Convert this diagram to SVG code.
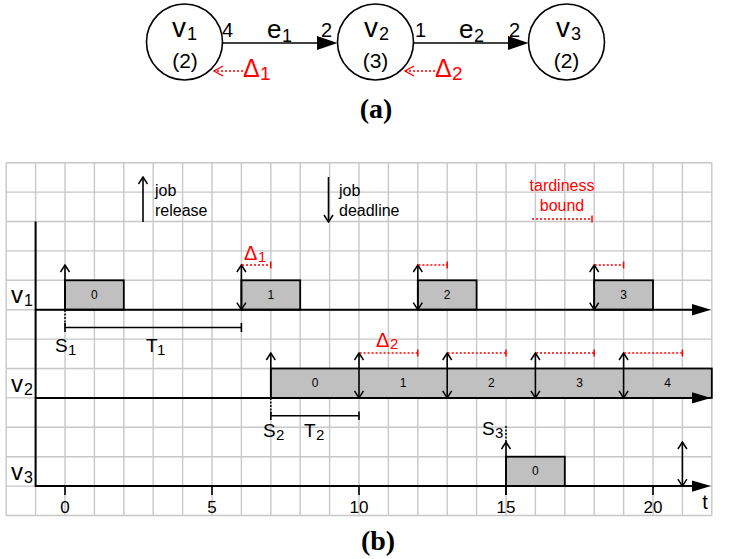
<svg xmlns="http://www.w3.org/2000/svg" width="736" height="559" viewBox="0 0 736 559">
<style>
text{font-family:"Liberation Sans",Arial,sans-serif;fill:#000}
.grid{fill:none;stroke:#c8c8c8;stroke-width:1.4}
.ln{fill:none;stroke:#000;stroke-width:1.6}
.ax{fill:none;stroke:#000;stroke-width:2}
.box{fill:#c0c0c0;stroke:#000;stroke-width:1.8}
.arr{fill:none;stroke:#000;stroke-width:1.6;marker-end:url(#oa)}
.darr{fill:none;stroke:#000;stroke-width:1.6;marker-start:url(#oa);marker-end:url(#oa)}
.red{fill:none;stroke:#f00;stroke-width:1.5;stroke-dasharray:2,2}
.rtk{fill:none;stroke:#f00;stroke-width:1.5}
.dash{fill:none;stroke:#000;stroke-width:1.5;stroke-dasharray:2,1.5}
.node{fill:#fff;stroke:#000;stroke-width:1.6}
.rt{fill:#f00}
.jl{font-size:12px;text-anchor:middle}
.tk{font-size:17px;text-anchor:middle}
.lg{font-size:16px}
.cap{font-family:"Liberation Serif","Times New Roman",serif;font-weight:bold;font-size:28px;text-anchor:middle}
</style>
<defs>
<marker id="oa" viewBox="-9 -6 10 12" refX="0" refY="0" markerWidth="10" markerHeight="12" markerUnits="userSpaceOnUse" orient="auto-start-reverse">
<path d="M-7,-4.5 L0,0 L-7,4.5" fill="none" stroke="#000" stroke-width="1.5"/>
</marker>
<marker id="ra" viewBox="-11 -7 12 14" refX="0" refY="0" markerWidth="12" markerHeight="14" markerUnits="userSpaceOnUse" orient="auto">
<path d="M-9,-5 L0,0 L-9,5" fill="none" stroke="#f00" stroke-width="1.3"/>
</marker>
</defs>
<rect width="736" height="559" fill="#fff"/>

<!-- (a) graph -->
<g id="graph-a">
<g id="node-v1">
<circle class="node" cx="184.5" cy="42" r="38"/>
<text x="172" y="37" font-size="28">v<tspan x="187" dy="3" font-size="18">1</tspan></text>
<text x="185" y="68" font-size="21" text-anchor="middle">(2)</text>
</g>
<g id="node-v2">
<circle class="node" cx="375.5" cy="42" r="38"/>
<text x="364" y="37" font-size="28">v<tspan x="379" dy="3" font-size="18">2</tspan></text>
<text x="375.5" y="68" font-size="21" text-anchor="middle">(3)</text>
</g>
<g id="node-v3">
<circle class="node" cx="566.5" cy="42" r="38"/>
<text x="556" y="37" font-size="28">v<tspan x="571" dy="3" font-size="18">3</tspan></text>
<text x="566.5" y="68" font-size="21" text-anchor="middle">(2)</text>
</g>
<g id="connectors-a">
<line class="ln" x1="222.5" y1="43" x2="318" y2="43"/>
<polygon points="317,36 337.5,43 317,50" fill="#000"/>
<line class="ln" x1="413.5" y1="43" x2="509" y2="43"/>
<polygon points="508,36 528.5,43 508,50" fill="#000"/>
<line class="red" x1="243" y1="71" x2="214" y2="71" marker-end="url(#ra)"/>
<line class="red" x1="435" y1="71" x2="405" y2="71" marker-end="url(#ra)"/>
</g>
<g id="edge-labels">
<text x="222" y="37" font-size="20">4</text>
<text x="267" y="38" font-size="26">e<tspan x="282" dy="4" font-size="18">1</tspan></text>
<text x="321" y="37" font-size="20">2</text>
<text x="415" y="37" font-size="20">1</text>
<text x="459" y="38" font-size="26">e<tspan x="474" dy="4" font-size="18">2</tspan></text>
<text x="509" y="37" font-size="20">2</text>
<text x="243" y="77" font-size="25" class="rt">Δ<tspan x="260" dy="3" font-size="19" class="rt">1</tspan></text>
<text x="435" y="77" font-size="25" class="rt">Δ<tspan x="452" dy="3" font-size="19" class="rt">2</tspan></text>
</g>
<text class="cap" x="376" y="118">(a)</text>
</g>

<!-- (b) timeline -->
<g id="timeline-b">
<path class="grid" d="M6.2,162.7V515.5M35.6,162.7V515.5M65,162.7V515.5M94.4,162.7V515.5M123.8,162.7V515.5M153.2,162.7V515.5M182.6,162.7V515.5M212,162.7V515.5M241.4,162.7V515.5M270.8,162.7V515.5M300.2,162.7V515.5M329.6,162.7V515.5M359,162.7V515.5M388.4,162.7V515.5M417.8,162.7V515.5M447.2,162.7V515.5M476.6,162.7V515.5M506,162.7V515.5M535.4,162.7V515.5M564.8,162.7V515.5M594.2,162.7V515.5M623.6,162.7V515.5M653,162.7V515.5M682.4,162.7V515.5M711.8,162.7V515.5M6.2,162.7H711.8M6.2,192.1H711.8M6.2,221.5H711.8M6.2,250.9H711.8M6.2,280.3H711.8M6.2,309.7H711.8M6.2,339.1H711.8M6.2,368.5H711.8M6.2,397.9H711.8M6.2,427.3H711.8M6.2,456.7H711.8M6.2,486.1H711.8M6.2,515.5H711.8"/>

<g id="legend">
<line class="arr" x1="143" y1="222" x2="143" y2="177"/>
<text class="lg" x="155" y="196">job</text>
<text class="lg" x="155" y="216">release</text>
<line class="arr" x1="328.5" y1="177" x2="328.5" y2="222"/>
<text class="lg" x="339" y="196">job</text>
<text class="lg" x="339" y="216">deadline</text>
<text class="lg rt" x="562" y="191" text-anchor="middle">tardiness</text>
<text class="lg rt" x="562" y="211" text-anchor="middle">bound</text>
<line class="red" x1="532" y1="219" x2="592" y2="219"/>
<line class="rtk" x1="592" y1="215.5" x2="592" y2="222.5"/>
</g>

<g id="v1-jobs">
<rect class="box" x="65" y="280.3" width="58.8" height="29.4"/>
<text class="jl" x="94.4" y="299">0</text>
<rect class="box" x="241.4" y="280.3" width="58.8" height="29.4"/>
<text class="jl" x="270.8" y="299">1</text>
<rect class="box" x="417.8" y="280.3" width="58.8" height="29.4"/>
<text class="jl" x="447.2" y="299">2</text>
<rect class="box" x="594.2" y="280.3" width="58.8" height="29.4"/>
<text class="jl" x="623.6" y="299">3</text>
</g>
<g id="v2-jobs">
<rect class="box" x="270.8" y="368.5" width="441" height="29.4"/>
<text class="jl" x="315.1" y="387">0</text>
<text class="jl" x="403.1" y="387">1</text>
<text class="jl" x="491.3" y="387">2</text>
<text class="jl" x="579.5" y="387">3</text>
<text class="jl" x="667.7" y="387">4</text>
</g>
<g id="v3-jobs">
<rect class="box" x="506" y="456.7" width="58.8" height="29.4"/>
<text class="jl" x="535.4" y="475">0</text>
</g>

<g id="axes">
<line class="ax" x1="35.6" y1="221.5" x2="35.6" y2="487"/>
<line class="ax" x1="35.6" y1="309.7" x2="695" y2="309.7"/>
<polygon points="692,304 711,309.7 692,315.4" fill="#000"/>
<line class="ax" x1="35.6" y1="397.9" x2="695" y2="397.9"/>
<polygon points="692,392.2 711,397.9 692,403.6" fill="#000"/>
<line class="ax" x1="35.6" y1="486.1" x2="695" y2="486.1"/>
<polygon points="692,480.4 711,486.1 692,491.8" fill="#000"/>
<path class="ln" d="M65,486V495M212,486V495M359,486V495M506,486V495M653,486V495"/>
<text class="tk" x="65" y="513">0</text>
<text class="tk" x="212" y="513">5</text>
<text class="tk" x="359" y="513">10</text>
<text class="tk" x="506" y="513">15</text>
<text class="tk" x="653" y="513">20</text>
<text x="705" y="509" font-size="20" text-anchor="middle">t</text>
<text x="11" y="303" font-size="24">v<tspan x="24" dy="3" font-size="16">1</tspan></text>
<text x="11" y="392" font-size="24">v<tspan x="24" dy="3" font-size="16">2</tspan></text>
<text x="11" y="480" font-size="24">v<tspan x="24" dy="3" font-size="16">3</tspan></text>
</g>

<g id="connectors">
<line class="arr" x1="65" y1="309.7" x2="65" y2="265"/>
<line class="darr" x1="241.4" y1="309.7" x2="241.4" y2="265"/>
<line class="darr" x1="417.8" y1="309.7" x2="417.8" y2="265"/>
<line class="darr" x1="594.2" y1="309.7" x2="594.2" y2="265"/>
<line class="arr" x1="270.8" y1="397.9" x2="270.8" y2="353"/>
<line class="darr" x1="359" y1="397.9" x2="359" y2="353"/>
<line class="darr" x1="447.2" y1="397.9" x2="447.2" y2="353"/>
<line class="darr" x1="535.4" y1="397.9" x2="535.4" y2="353"/>
<line class="darr" x1="623.6" y1="397.9" x2="623.6" y2="353"/>
<line class="arr" x1="506" y1="495" x2="506" y2="442"/>
<line class="darr" x1="682.4" y1="486.1" x2="682.4" y2="442"/>
<path class="red" d="M242,265H270.8M418.4,265H447.2M594.8,265H623.6"/>
<path class="rtk" d="M270.8,261.5V268.5M447.2,261.5V268.5M623.6,261.5V268.5"/>
<path class="red" d="M359.6,353H417.8M447.8,353H506M536,353H594.2M624.2,353H682.4"/>
<path class="rtk" d="M417.8,349.5V356.5M506,349.5V356.5M594.2,349.5V356.5M682.4,349.5V356.5"/>
<line class="dash" x1="65" y1="310" x2="65" y2="326"/>
<line class="ln" x1="65" y1="327.5" x2="241.4" y2="327.5"/>
<path class="ln" d="M65,323V332M241.4,323V332"/>
<line class="dash" x1="270.8" y1="398" x2="270.8" y2="414"/>
<line class="ln" x1="270.8" y1="415.7" x2="359" y2="415.7"/>
<path class="ln" d="M270.8,411.5V420M359,411.5V420"/>
<line class="dash" x1="506" y1="442" x2="506" y2="426"/>
</g>

<g id="labels-b">
<text x="244" y="260" font-size="20" class="rt">Δ<tspan x="258" dy="2" font-size="15" class="rt">1</tspan></text>
<text x="376" y="347" font-size="20" class="rt">Δ<tspan x="390" dy="2" font-size="15" class="rt">2</tspan></text>
<text x="55" y="352" font-size="19">S<tspan x="68" dy="3" font-size="15">1</tspan></text>
<text x="146" y="352" font-size="19">T<tspan x="157" dy="3" font-size="15">1</tspan></text>
<text x="263" y="437" font-size="19">S<tspan x="276" dy="3" font-size="15">2</tspan></text>
<text x="304" y="437" font-size="19">T<tspan x="316" dy="3" font-size="15">2</tspan></text>
<text x="482" y="435" font-size="19">S<tspan x="495" dy="3" font-size="15">3</tspan></text>
</g>
<text class="cap" x="378" y="550">(b)</text>
</g>
</svg>
